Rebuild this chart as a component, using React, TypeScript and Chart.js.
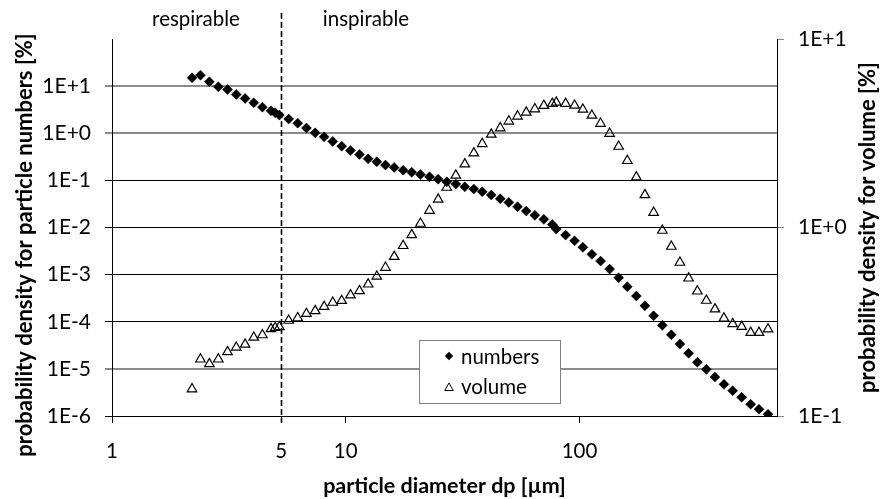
import React, { useEffect, useRef } from 'react';
import { Chart, registerables } from 'chart.js';

Chart.register(...registerables);

// ---------- data ----------
const diameters = [
  2.2, 2.39, 2.61, 2.85, 3.12, 3.4, 3.71, 4.04, 4.4, 4.79,
  4.99, 5.2, 5.7, 6.23, 6.79, 7.4, 8.08, 8.8, 9.61, 10.48,
  11.45, 12.47, 13.58, 14.79, 16.12, 17.61, 19.16, 20.88, 22.82, 24.86,
  27.06, 29.57, 32.31, 35.32, 38.37, 41.93, 45.81, 49.86, 54.33, 59.19,
  64.43, 70.39, 76.48, 79.55, 87.2, 95.28, 103.4, 113.0, 123.1, 134.6,
  147.1, 160.2, 175.1, 190.5, 207.6, 226.2, 247.2, 269.0, 293.1, 319.4,
  349.0, 379.9, 415.1, 452.3, 494.3, 540.1, 586.1, 640.6,
];

const numbersDensity = [
  15.0, 17.1, 12.4, 9.68, 8.5, 6.66, 5.48, 4.43, 3.58, 2.99,
  2.72, 2.43, 2.0, 1.64, 1.29, 1.02, 0.84, 0.671, 0.533, 0.432,
  0.356, 0.287, 0.248, 0.211, 0.188, 0.165, 0.148, 0.134, 0.119, 0.106,
  0.0933, 0.0834, 0.0731, 0.0653, 0.0573, 0.0488, 0.0407, 0.0341, 0.0275, 0.0223,
  0.0181, 0.0149, 0.0116, 0.00925, 0.0069, 0.00523, 0.00379, 0.00269, 0.00194, 0.00131,
  0.000859, 0.000553, 0.000351, 0.000218, 0.000134, 0.0000839, 0.000053, 0.0000336, 0.0000214, 0.0000138,
  0.00000977, 0.00000671, 0.0000047, 0.00000344, 0.00000249, 0.00000177, 0.00000139, 0.00000109,
];

const volumeDensity = [
  0.139, 0.2, 0.189, 0.2, 0.219, 0.231, 0.24, 0.261, 0.269, 0.29,
  0.294, 0.297, 0.321, 0.331, 0.349, 0.361, 0.38, 0.4, 0.409, 0.438,
  0.461, 0.5, 0.55, 0.613, 0.701, 0.8, 0.914, 1.05, 1.23, 1.41,
  1.63, 1.89, 2.17, 2.48, 2.78, 3.12, 3.37, 3.66, 3.89, 4.08,
  4.25, 4.43, 4.54, 4.61, 4.54, 4.44, 4.23, 3.93, 3.56, 3.15,
  2.69, 2.26, 1.85, 1.49, 1.2, 0.964, 0.793, 0.652, 0.538, 0.459,
  0.41, 0.369, 0.33, 0.308, 0.298, 0.277, 0.277, 0.289,
];

const xTickValues = [1, 5.3, 10, 100];
const xTickLabels = ['1', '5', '10', '100'];
const leftTickValues = [1e-6, 1e-5, 1e-4, 1e-3, 1e-2, 1e-1, 1e0, 1e1];
const rightTickValues = [0.1, 1, 10];
const boundaryDiameter = 5.3; // respirable / inspirable limit line
const regionLabels = ['respirable', 'inspirable'];
const seriesLabels = ['numbers', 'volume'];
const xTitle = 'particle diameter dp [µm]';
const leftTitle = 'probability density for particle numbers [%]';
const rightTitle = 'probability density for volume [%]';

// ---------- helpers ----------
const FONT = 'Lato';
const TXT = 20.5;
const sci = (v: number) => {
  const e = Math.round(Math.log10(v));
  return '1E' + (e >= 0 ? '+' : '') + e;
};
const grayLines = [1e1, 1e0, 1e-5];
const isGray = (v: number) => grayLines.some((g) => Math.abs(Math.log10(v) - Math.log10(g)) < 1e-6);

function drawDiamond(ctx: CanvasRenderingContext2D, x: number, y: number, r: number) {
  ctx.beginPath();
  ctx.moveTo(x - r, y);
  ctx.lineTo(x, y - r);
  ctx.lineTo(x + r, y);
  ctx.lineTo(x, y + r);
  ctx.closePath();
  ctx.fillStyle = '#000';
  ctx.fill();
}
function drawTriangle(ctx: CanvasRenderingContext2D, x: number, y: number, r: number) {
  ctx.beginPath();
  ctx.moveTo(x, y - r);
  ctx.lineTo(x + r * 0.866, y + r * 0.5);
  ctx.lineTo(x - r * 0.866, y + r * 0.5);
  ctx.closePath();
  ctx.strokeStyle = '#000';
  ctx.lineWidth = 1;
  ctx.stroke();
}

const overlayPlugin = {
  id: 'overlay',
  afterDraw(chart: any) {
    const ctx: CanvasRenderingContext2D = chart.ctx;
    const area = chart.chartArea;
    const xs = chart.scales.x;
    ctx.save();

    // dashed boundary line
    const bx = Math.round(xs.getPixelForValue(boundaryDiameter)) + 0.5;
    ctx.strokeStyle = '#000';
    ctx.lineWidth = 1.6;
    ctx.setLineDash([6, 3]);
    ctx.beginPath();
    ctx.moveTo(bx, 13);
    ctx.lineTo(bx, area.bottom + 7);
    ctx.stroke();
    ctx.setLineDash([]);

    // region labels
    ctx.fillStyle = '#000';
    ctx.font = `${TXT}px ${FONT}`;
    ctx.textAlign = 'center';
    ctx.textBaseline = 'alphabetic';
    ctx.fillText(regionLabels[0], 196, 26);
    ctx.fillText(regionLabels[1], 366, 26);

    // axis titles
    ctx.font = `bold 21.5px ${FONT}`;
    ctx.fillText(xTitle, (area.left + area.right) / 2, 493);
    ctx.font = `bold 22px ${FONT}`;
    ctx.textBaseline = 'middle';
    ctx.save();
    ctx.translate(25, 245);
    ctx.rotate(-Math.PI / 2);
    ctx.fillText(leftTitle, 0, 0);
    ctx.restore();
    ctx.save();
    ctx.translate(868, (area.top + area.bottom) / 2);
    ctx.rotate(-Math.PI / 2);
    ctx.fillText(rightTitle, 0, 0);
    ctx.restore();

    // legend box
    const lx = 419.5, ly = 340.5, lw = 141, lh = 63;
    ctx.fillStyle = '#fff';
    ctx.fillRect(lx, ly, lw, lh);
    ctx.strokeStyle = '#808080';
    ctx.lineWidth = 1;
    ctx.strokeRect(lx, ly, lw, lh);
    drawDiamond(ctx, 449, 356, 4.2);
    drawTriangle(ctx, 449, 388, 5);
    ctx.fillStyle = '#000';
    ctx.font = `${TXT}px ${FONT}`;
    ctx.textAlign = 'left';
    ctx.textBaseline = 'middle';
    ctx.fillText(seriesLabels[0], 461, 357);
    ctx.fillText(seriesLabels[1], 461, 387);

    ctx.restore();
  },
};

export default function App() {
  const ref = useRef<HTMLCanvasElement>(null);
  useEffect(() => {
    const canvas = ref.current;
    if (!canvas) return;
    const chart = new Chart(canvas, {
      type: 'scatter',
      data: {
        datasets: [
          {
            label: seriesLabels[0],
            data: diameters.map((d, i) => ({ x: d, y: numbersDensity[i] })),
            yAxisID: 'y',
            pointStyle: 'rectRot',
            pointRadius: 5,
            backgroundColor: '#000',
            borderColor: '#000',
            borderWidth: 0.5,
            showLine: false,
          },
          {
            label: seriesLabels[1],
            data: diameters.map((d, i) => ({ x: d, y: volumeDensity[i] })),
            yAxisID: 'y2',
            pointStyle: 'triangle',
            pointRadius: 5.5,
            backgroundColor: 'rgba(0,0,0,0)',
            borderColor: '#000',
            borderWidth: 1.2,
            showLine: false,
          },
        ],
      },
      options: {
        responsive: false,
        animation: false,
        devicePixelRatio: 1,
        layout: { padding: { top: 39, left: 0, right: 0, bottom: 0 }, autoPadding: false },
        plugins: { legend: { display: false }, tooltip: { enabled: false } },
        scales: {
          x: {
            type: 'logarithmic',
            position: 'bottom',
            min: 1,
            max: 700,
            afterBuildTicks: (s: any) => {
              s.ticks = xTickValues.map((v) => ({ value: v }));
            },
            afterFit: (s: any) => {
              s.height = 83;
            },
            ticks: {
              autoSkip: false,
              maxRotation: 0,
              padding: 16,
              color: '#000',
              font: { family: FONT, size: TXT },
              callback: (v: any) => {
                const i = xTickValues.indexOf(Number(v));
                return i >= 0 ? xTickLabels[i] : '';
              },
            },
            grid: { drawOnChartArea: false, drawTicks: true, tickLength: 7, color: '#000' },
            border: { color: '#000', width: 1 },
          },
          y: {
            type: 'logarithmic',
            position: 'left',
            min: 1e-6,
            max: 1e2,
            afterBuildTicks: (s: any) => {
              s.ticks = leftTickValues.map((v) => ({ value: v }));
            },
            afterFit: (s: any) => {
              s.width = 112;
            },
            ticks: {
              autoSkip: false,
              padding: 14,
              color: '#000',
              font: { family: FONT, size: 21 },
              callback: (v: any) => sci(Number(v)),
            },
            grid: {
              drawOnChartArea: true,
              drawTicks: true,
              tickLength: 7,
              color: (c: any) => (c.tick && isGray(c.tick.value) ? '#8c8c8c' : '#000'),
              lineWidth: (c: any) => (c.tick && isGray(c.tick.value) ? 2 : 1),
            },
            border: { color: '#000', width: 1 },
          },
          y2: {
            type: 'logarithmic',
            position: 'right',
            min: 0.1,
            max: 10,
            afterBuildTicks: (s: any) => {
              s.ticks = rightTickValues.map((v) => ({ value: v }));
            },
            afterFit: (s: any) => {
              s.width = 104;
            },
            ticks: {
              autoSkip: false,
              padding: 14,
              color: '#000',
              font: { family: FONT, size: 21 },
              callback: (v: any) => sci(Number(v)),
            },
            grid: { drawOnChartArea: false, drawTicks: true, tickLength: 7, color: '#8c8c8c' },
            border: { color: '#000', width: 1 },
          },
        },
      },
      plugins: [overlayPlugin],
    } as any);
    return () => chart.destroy();
  }, []);

  return (
    <div style={{ position: 'fixed', left: 0, top: 0, width: 881, height: 499, background: '#fff' }}>
      <canvas ref={ref} width={881} height={499} style={{ display: 'block', width: 881, height: 499 }} />
    </div>
  );
}
